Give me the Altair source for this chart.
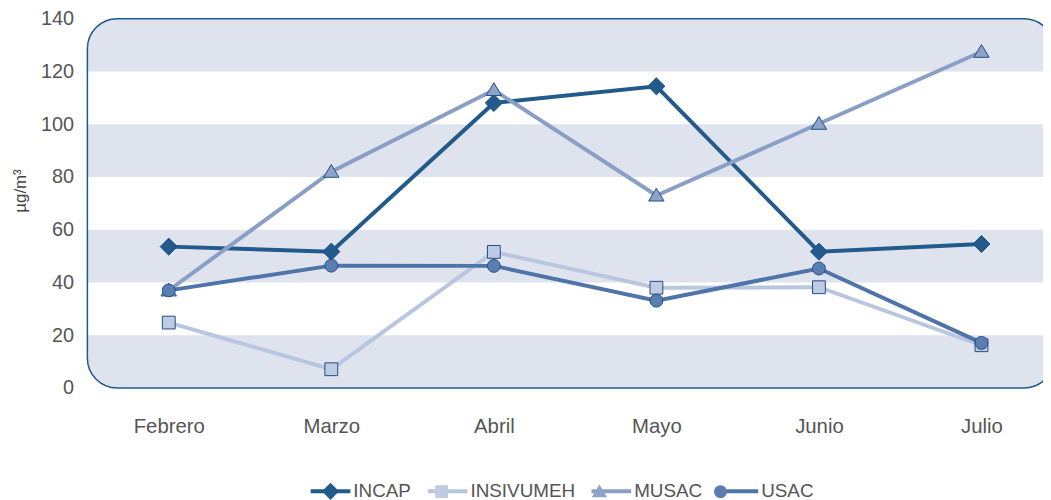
import altair as alt
import pandas as pd

months = ["Febrero", "Marzo", "Abril", "Mayo", "Junio", "Julio"]
series = ["INCAP", "INSIVUMEH", "MUSAC", "USAC"]
incap = [53.6, 51.7, 108.1, 114.4, 51.7, 54.6]
insivumeh = [24.8, 7.1, 51.6, 38.0, 38.2, 16.2]
musac = [37.0, 82.0, 113.0, 73.0, 100.2, 127.5]
usac = [37.0, 46.4, 46.3, 33.1, 45.3, 17.1]

y_ticks = [0, 20, 40, 60, 80, 100, 120, 140]
white_lo = [20, 60, 100]
white_hi = [40, 80, 120]

line_colors = ["#235a8c", "#b9c6df", "#8a9fc6", "#4f74aa"]
fill_colors = ["#235a8c", "#bfcbe2", "#8fa3c9", "#5a7db2"]
marker_paths = [
    "M0,-0.4L0.4,0L0,0.4L-0.4,0Z",
    "M-0.3,-0.3L0.3,-0.3L0.3,0.3L-0.3,0.3Z",
    "M0,-0.34L0.36,0.26L-0.36,0.26Z",
    "M0.3,0A0.3,0.3,0,1,1,-0.3,0A0.3,0.3,0,1,1,0.3,0Z",
]

values = {"INCAP": incap, "INSIVUMEH": insivumeh, "MUSAC": musac, "USAC": usac}
rows = []
for s in series:
    for m, v in zip(months, values[s]):
        rows.append({"series": s, "month": m, "value": v})
df = pd.DataFrame(rows)

FONT = "Liberation Sans, Arial, Helvetica, sans-serif"
W, H = 963, 372
FRAME_RIGHT = 974
LX, LY = 223, 454
COLPAD = 8

yscale = alt.Scale(domain=[0, 140], nice=False, zero=True)
yaxis = alt.Axis(values=y_ticks, domain=False, ticks=False, grid=False,
                 labelPadding=14, labelFontSize=20, labelColor="#555555",
                 labelFont=FONT, titleFont=FONT, titleFontSize=17,
                 titleFontWeight="normal", titleColor="#444444", titlePadding=11,
                 titleY=173)
YT = "µg/m³"
xscale = alt.Scale(type="point", domain=months, range=[82, 901], padding=0)
xaxis = alt.Axis(title=None, domain=False, ticks=False, grid=False, labelAngle=0,
                 labelPadding=29, labelFontSize=20.5, labelColor="#555555", labelFont=FONT)

bg = alt.Chart(pd.DataFrame({"lo": [0], "hi": [140]})).mark_rect(
    fill="#dfe3ee", cornerRadius=30
).encode(
    x=alt.value(0), x2=alt.value(FRAME_RIGHT),
    y=alt.Y("hi:Q", scale=yscale, axis=yaxis, title=YT), y2="lo:Q"
)

bands = alt.Chart(pd.DataFrame({"lo": white_lo, "hi": white_hi})).mark_rect(
    fill="white"
).encode(
    x=alt.value(0), x2=alt.value(FRAME_RIGHT),
    y=alt.Y("hi:Q", scale=yscale, axis=yaxis, title=YT), y2="lo:Q"
)

frame = alt.Chart(pd.DataFrame({"lo": [0], "hi": [140]})).mark_rect(
    fill="transparent", stroke="#1f5a8c", strokeWidth=1.5, cornerRadius=30
).encode(
    x=alt.value(0), x2=alt.value(FRAME_RIGHT),
    y=alt.Y("hi:Q", scale=yscale, axis=yaxis, title=YT), y2="lo:Q"
)

lines = alt.Chart(df).mark_line(strokeWidth=4).encode(
    x=alt.X("month:N", sort=months, scale=xscale, axis=xaxis),
    y=alt.Y("value:Q", scale=yscale, axis=yaxis, title=YT),
    color=alt.Color("series:N", scale=alt.Scale(domain=series, range=line_colors),
                    legend=alt.Legend(orient="none", legendX=LX, legendY=LY,
                                      direction="horizontal", title=None,
                                      symbolType="stroke", symbolSize=1600,
                                      symbolStrokeWidth=4, labelFontSize=19,
                                      labelFont=FONT, labelColor="#555555",
                                      labelOffset=1, columnPadding=COLPAD, padding=0)),
)

marker_legend = alt.Legend(orient="none", legendX=LX, legendY=LY,
                           direction="horizontal", title=None,
                           symbolSize=1849, symbolStrokeColor="#1f4e86",
                           symbolStrokeWidth=1, symbolOpacity=1,
                           labelFontSize=19, labelFont=FONT,
                           labelColor="rgba(0,0,0,0)",
                           labelOffset=1, columnPadding=COLPAD, padding=0)

points = alt.Chart(df).mark_point(
    filled=True, size=1849, stroke="#1f4e86", strokeWidth=1, opacity=1
).encode(
    x=alt.X("month:N", sort=months, scale=xscale, axis=xaxis),
    y=alt.Y("value:Q", scale=yscale, axis=yaxis, title=YT),
    fill=alt.Fill("series:N", scale=alt.Scale(domain=series, range=fill_colors),
                  legend=marker_legend),
    shape=alt.Shape("series:N", scale=alt.Scale(domain=series, range=marker_paths),
                    legend=marker_legend),
)

chart = alt.layer(bg, bands, frame, lines, points).properties(
    width=W, height=H,
    padding={"left": 80, "top": 9, "right": 0, "bottom": 111},
    autosize=alt.AutoSizeParams(type="none"),
).resolve_legend(color="independent", fill="independent", shape="independent").configure_view(stroke=None)

chart.save("out.html", embed_options={"renderer": "svg", "actions": False})
